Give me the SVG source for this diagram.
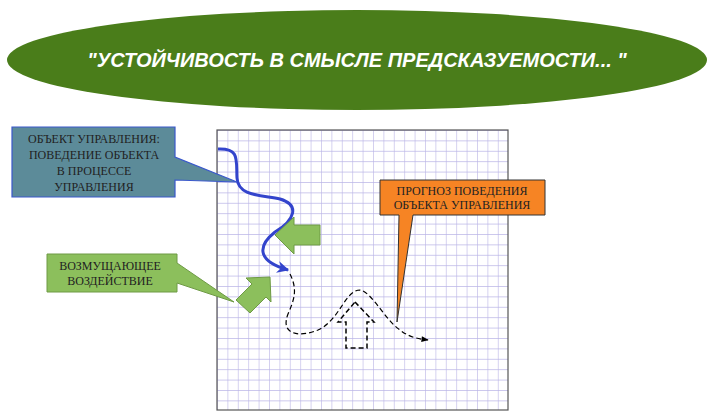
<svg xmlns="http://www.w3.org/2000/svg" width="714" height="420" viewBox="0 0 714 420">
<defs>
<pattern id="g" x="217" y="130" width="10.4" height="10.4" patternUnits="userSpaceOnUse">
<path d="M0 0H10.4M0 0V10.4" stroke="#b9b4e6" stroke-width="1.2" fill="none"/>
</pattern>
<marker id="ab" viewBox="0 0 10 10" refX="9" refY="5" markerWidth="4" markerHeight="4" orient="auto"><path d="M0 0L10 5L0 10L3 5Z" fill="#3344cc"/></marker>
<marker id="ak" viewBox="0 0 10 10" refX="9" refY="5" markerWidth="8" markerHeight="6" orient="auto"><path d="M0 1L10 5L0 9Z" fill="#000"/></marker>
<style>
.t{font-family:"Liberation Serif",serif;font-size:12px;fill:#222;text-anchor:middle}
.ga{fill:#8cbf5c;stroke:#6e9a45;stroke-width:1}
</style>
</defs>
<g id="title">
<ellipse cx="357" cy="60" rx="350" ry="50" fill="#4a7d1a"/>
<text x="357" y="67" font-family="Liberation Sans,sans-serif" font-size="20" font-weight="bold" font-style="italic" fill="#fff" text-anchor="middle">"УСТОЙЧИВОСТЬ В СМЫСЛЕ ПРЕДСКАЗУЕМОСТИ... "</text>
</g>
<g id="grid">
<rect x="217" y="130" width="291" height="280" fill="#fff"/>
<rect x="217" y="130" width="291" height="280" fill="url(#g)" stroke="#555" stroke-width="1.2"/>
</g>
<g id="connectors">
<path d="M218 149C240 148 236 160 237 178C238 196 260 195 280 199C300 205 295 220 275 232C255 248 260 262 288 270" fill="none" stroke="#3344cc" stroke-width="3" marker-end="url(#ab)"/>
<path d="M290 274C298 290 294 300 288 314C280 334 298 338 318 330C340 320 345 290 360 290C372 292 385 320 400 330C410 338 420 339 428 340" fill="none" stroke="#000" stroke-width="1.2" stroke-dasharray="5,3" marker-end="url(#ak)"/>
<path d="M355 302L374 322H367V348H346V322H338Z" fill="none" stroke="#000" stroke-width="1.5" stroke-dasharray="5,3"/>
</g>
<g id="arrow-left"><polygon class="ga" points="275,235 294,217 294,225 320,225 320,245 294,245 294,254"/></g>
<g id="arrow-diag"><polygon class="ga" points="270,277 246,278 252,284 236,300 250,313 266,297 271,302"/></g>
<g id="object-callout">
<path d="M12 127H175V157L237 182L175 180V197H12Z" fill="#5c8b99" stroke="#3a58cc" stroke-width="1.2"/>
<text class="t" x="94" y="143">ОБЪЕКТ УПРАВЛЕНИЯ:</text>
<text class="t" x="94" y="159">ПОВЕДЕНИЕ ОБЪЕКТА</text>
<text class="t" x="94" y="175">В ПРОЦЕССЕ</text>
<text class="t" x="94" y="191">УПРАВЛЕНИЯ</text>
</g>
<g id="disturbance-callout">
<path d="M47 254H177V263L234 302L177 283V292H47Z" fill="#8cbf5c" stroke="#6e9a45" stroke-width="1"/>
<text class="t" x="110" y="270">ВОЗМУЩАЮЩЕЕ</text>
<text class="t" x="110" y="285">ВОЗДЕЙСТВИЕ</text>
</g>
<g id="forecast-callout">
<path d="M380 180H545V215H413L397 322L399 215H380Z" fill="#f68424" stroke="#333" stroke-width="1"/>
<text class="t" x="462" y="195">ПРОГНОЗ ПОВЕДЕНИЯ</text>
<text class="t" x="462" y="209">ОБЪЕКТА УПРАВЛЕНИЯ</text>
</g>
</svg>
